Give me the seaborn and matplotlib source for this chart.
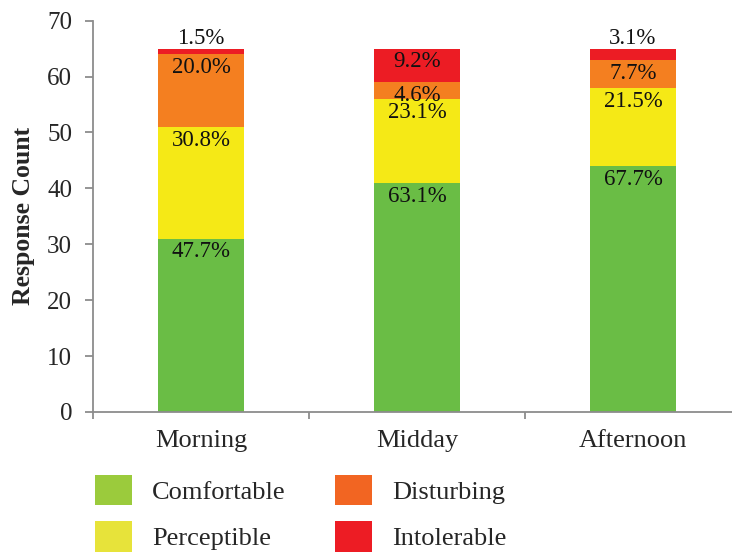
import matplotlib
matplotlib.use("Agg")
import matplotlib.pyplot as plt
from matplotlib.patches import Patch
from matplotlib.ticker import FixedLocator
import numpy as np
import pandas as pd
import seaborn as sns

# Survey responses per time of day (65 respondents each)
periods = ["Morning", "Midday", "Afternoon"]
comfortable = [31, 41, 44]
perceptible = [20, 15, 14]
disturbing = [13, 3, 5]
intolerable = [1, 6, 2]

pct_comfortable = ["47.7%", "63.1%", "67.7%"]
pct_perceptible = ["30.8%", "23.1%", "21.5%"]
pct_disturbing = ["20.0%", "4.6%", "7.7%"]
pct_intolerable = ["1.5%", "9.2%", "3.1%"]

levels = ["Comfortable", "Perceptible", "Disturbing", "Intolerable"]
bar_colors = ["#6abd45", "#f5e916", "#f47f20", "#ec1c24"]
legend_colors = ["#9bcb3c", "#e7e33a", "#f26522", "#ed1c24"]

sns.set_theme(style="white")
plt.rcParams["font.family"] = ["Liberation Serif", "DejaVu Serif"]

df = pd.DataFrame({
    "period": periods,
    "Comfortable": comfortable,
    "Perceptible": perceptible,
    "Disturbing": disturbing,
    "Intolerable": intolerable,
})
cum = df[levels].cumsum(axis=1)

fig = plt.figure(figsize=(7.32, 5.55), dpi=100)
ax = fig.add_axes([93 / 732, 1 - 412 / 555, 648 / 732, (412 - 20.7) / 555])

# stacked bars: draw the running totals from the top layer down
for lvl, col in reversed(list(zip(levels, bar_colors))):
    sns.barplot(data=cum.assign(period=df["period"]), x="period", y=lvl,
                color=col, width=0.4, linewidth=0, saturation=1, ax=ax)

labels = [pct_comfortable, pct_perceptible, pct_disturbing, pct_intolerable]
for j, lvl in enumerate(levels):
    for i in range(len(periods)):
        top = cum[lvl].iloc[i]
        seg = df[lvl].iloc[i]
        if lvl == "Intolerable" and seg < 3:
            ax.annotate(labels[j][i], (i, top), xytext=(0, -0.5),
                        textcoords="offset points", ha="center", va="bottom",
                        fontsize=16.5, color="#111111")
        else:
            ax.annotate(labels[j][i], (i, top), xytext=(0, -2),
                        textcoords="offset points", ha="center", va="top",
                        fontsize=16.5, color="#111111")

ax.set_xlim(-0.5, 2.5)
ax.set_ylim(0, 70)
ax.set_yticks(np.arange(0, 71, 10))
ax.xaxis.set_minor_locator(FixedLocator([-0.5, 0.5, 1.5, 2.5]))
ax.tick_params(axis="x", which="major", length=0, pad=13, labelsize=19)
ax.tick_params(axis="x", which="minor", bottom=True, length=5, width=1.3,
               color="#8c8c8c")
ax.tick_params(axis="y", left=True, length=6, width=1.3, color="#8c8c8c",
               pad=9, labelsize=18)
ax.set_xlabel("")
ax.set_ylabel("Response Count", fontsize=18.5, fontweight="bold", labelpad=9)

for s in ["top", "right"]:
    ax.spines[s].set_visible(False)
for s in ["left", "bottom"]:
    ax.spines[s].set_color("#8c8c8c")
    ax.spines[s].set_linewidth(1.3)

# legend laid out in two columns
def add_legend(names, cols, x, y):
    handles = [Patch(facecolor=c, edgecolor="none") for c in cols]
    fig.legend(handles, names, loc="upper left",
               bbox_to_anchor=(x / 732, 1 - y / 555), frameon=False,
               borderpad=0, borderaxespad=0, fontsize=19,
               handlelength=1.4, handleheight=1.4,
               handletextpad=0.75, labelspacing=0.6)

add_legend(["Comfortable", "Perceptible"], legend_colors[:2], 95, 475)
add_legend(["Disturbing", "Intolerable"], legend_colors[2:], 335, 475)

fig.savefig("out.png", dpi=100)
